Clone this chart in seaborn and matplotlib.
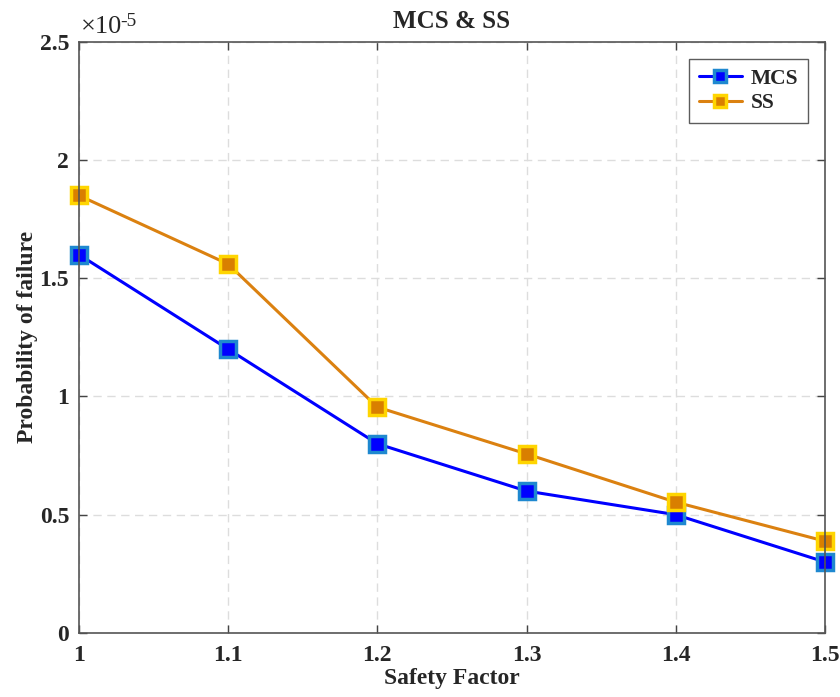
import matplotlib
matplotlib.use("Agg")
import matplotlib.pyplot as plt
import matplotlib.transforms as mtrans
import seaborn as sns
import pandas as pd

# data (probability of failure in units of 1e-5)
safety_factor = [1.0, 1.1, 1.2, 1.3, 1.4, 1.5]
pf_mcs = [1.60, 1.20, 0.80, 0.60, 0.50, 0.30]
pf_ss = [1.85, 1.56, 0.955, 0.757, 0.553, 0.388]
x_ticks = [1, 1.1, 1.2, 1.3, 1.4, 1.5]
x_labels = ["1", "1.1", "1.2", "1.3", "1.4", "1.5"]
y_ticks = [0, 0.5, 1, 1.5, 2, 2.5]
y_labels = ["0", "0.5", "1", "1.5", "2", "2.5"]

sns.set_theme(style="white")
plt.rcParams['font.family'] = ['Liberation Serif', 'DejaVu Serif']
plt.rcParams['font.weight'] = 'bold'

df = pd.DataFrame({"sf": safety_factor, "MCS": pf_mcs, "SS": pf_ss})

fig = plt.figure(figsize=(8.4, 6.97), dpi=100)
ax = fig.add_axes([0.094, 0.092, 0.888, 0.848])

sns.lineplot(data=df, x="sf", y="MCS", ax=ax, color="#0000FF", linewidth=2.2,
             marker="s", markersize=11, markerfacecolor="#0000FF",
             markeredgecolor="#1E88D0", markeredgewidth=2.5, label="MCS", clip_on=False)
sns.lineplot(data=df, x="sf", y="SS", ax=ax, color="#DB8110", linewidth=2.2,
             marker="s", markersize=11, markerfacecolor="#D97F00",
             markeredgecolor="#FFD500", markeredgewidth=2.5, label="SS", clip_on=False)

ax.set_xlim(1, 1.5)
ax.set_ylim(0, 2.5)
ax.set_xticks(x_ticks)
ax.set_xticklabels(x_labels, fontsize=17, fontweight='bold')
ax.set_yticks(y_ticks)
ax.set_yticklabels(y_labels, fontsize=17, fontweight='bold')
ax.tick_params(direction='in', length=6, width=1, color='#444444', top=True, right=True,
               bottom=True, left=True)
ax.tick_params(axis='x', pad=9)
ax.tick_params(axis='y', pad=7)

ax.grid(True, linestyle=(0, (6, 4)), color='#DDDDDD', linewidth=1)
for s in ax.spines.values():
    s.set_color('#555555')
    s.set_linewidth(1.2)

ax.set_xlabel("Safety Factor", fontsize=17, fontweight='bold', labelpad=1)
ax.set_ylabel("Probability of failure", fontsize=17, fontweight='bold', labelpad=1)
ax.set_title("MCS & SS", fontsize=18, fontweight='bold', pad=10)

# scale factor label (MATLAB style)
ax.text(0.002, 1.0, "\u00d710", transform=ax.transAxes +
        mtrans.ScaledTranslation(0, 0.04, fig.dpi_scale_trans),
        fontsize=19, fontweight='normal', ha='left', va='bottom')
ax.text(0.056, 1.0, "-5", transform=ax.transAxes +
        mtrans.ScaledTranslation(0, 0.12, fig.dpi_scale_trans),
        fontsize=14, fontweight='normal', ha='left', va='bottom')

leg = ax.legend(loc='upper right', frameon=True, fancybox=False,
                edgecolor='#333333', handlelength=2.0, borderaxespad=0.8,
                handletextpad=0.4, borderpad=0.45, labelspacing=0.2,
                prop={'weight': 'bold', 'size': 15.5})
leg.get_frame().set_linewidth(1)
for h in leg.legend_handles:
    h.set_markersize(9)

fig.savefig("out.png", dpi=100)
